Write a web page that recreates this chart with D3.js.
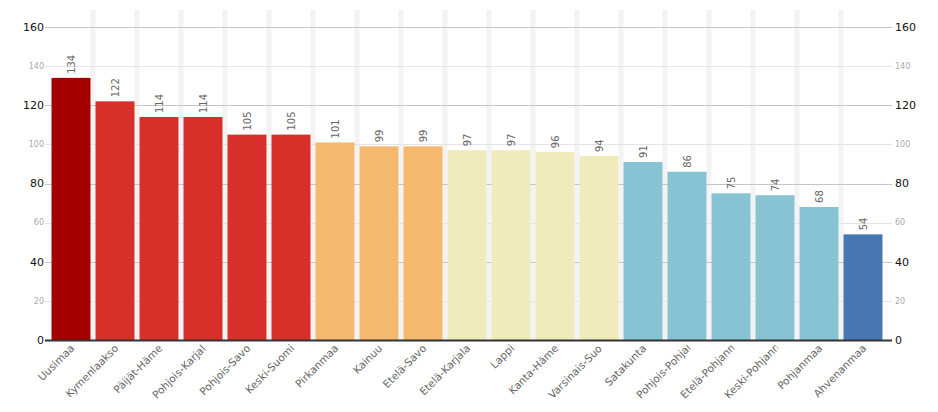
<!DOCTYPE html>
<html><head><meta charset="utf-8">
<script src="https://cdn.jsdelivr.net/npm/d3@7"></script>
<style>
html,body{margin:0;padding:0;background:#fff;}
svg{display:block;font-family:"DejaVu Sans",Verdana,sans-serif;}
</style></head>
<body><svg id="c" width="938" height="412"></svg>
<script>
const categories = ["Uusimaa","Kymenlaakso","Päijät-Häme","Pohjois-Karjala","Pohjois-Savo","Keski-Suomi","Pirkanmaa","Kainuu","Etelä-Savo","Etelä-Karjala","Lappi","Kanta-Häme","Varsinais-Suomi","Satakunta","Pohjois-Pohjanmaa","Etelä-Pohjanmaa","Keski-Pohjanmaa","Pohjanmaa","Ahvenanmaa"];
const values = [134,122,114,114,105,105,101,99,99,97,97,96,94,91,86,75,74,68,54];
const colorGroups = ["#a50000","#d7302a","#d7302a","#d7302a","#d7302a","#d7302a","#f4b96f","#f4b96f","#f4b96f","#efebba","#efebba","#efebba","#efebba","#88c3d3","#88c3d3","#88c3d3","#88c3d3","#88c3d3","#4677b0"];
const majorTicks = [0,40,80,120,160];
const minorTicks = [20,60,100,140];

const svg = d3.select("#c");
const x = d3.scaleBand().domain(categories).range([49,885]).paddingInner(0.114).paddingOuter(0.057);
const y = d3.scaleLinear().domain([0,160]).range([340,27]);
const bw = x.bandwidth(), step = x.step();
const gx0 = 45, gx1 = 892;

// stripes between bars
svg.append("g").selectAll("rect").data(categories.slice(0,-1)).join("rect")
  .attr("x", d => x(d)+bw).attr("width", step-bw)
  .attr("y", 10).attr("height", 340-10).attr("fill","#f3f3f3");

// gridlines
svg.append("g").selectAll("line").data(minorTicks).join("line")
  .attr("x1",gx0).attr("x2",gx1).attr("y1",d=>Math.round(y(d))+0.5).attr("y2",d=>Math.round(y(d))+0.5)
  .attr("stroke","#e4e4e4");
svg.append("g").selectAll("line").data(majorTicks.filter(d=>d>0)).join("line")
  .attr("x1",gx0).attr("x2",gx1).attr("y1",d=>Math.round(y(d))+0.5).attr("y2",d=>Math.round(y(d))+0.5)
  .attr("stroke","#c6c6c6");

// bars
svg.append("g").selectAll("rect").data(values).join("rect")
  .attr("x",(d,i)=>x(categories[i])).attr("width",bw)
  .attr("y",d=>y(d)).attr("height",d=>y(0)-y(d))
  .attr("fill",(d,i)=>colorGroups[i]);

// baseline
svg.append("line").attr("x1",gx0).attr("x2",gx1).attr("y1",340.5).attr("y2",340.5)
  .attr("stroke","#333").attr("stroke-width",2);

// axis labels
function axisLabels(xpos, anchor){
  const g = svg.append("g");
  g.selectAll("text.maj").data(majorTicks).join("text").attr("class","maj")
    .attr("x",xpos).attr("y",d=>y(d)).attr("dy","0.35em").attr("text-anchor",anchor)
    .attr("font-size",11).attr("fill","#111").text(d=>d);
  g.selectAll("text.min").data(minorTicks).join("text").attr("class","min")
    .attr("x",xpos).attr("y",d=>y(d)).attr("dy","0.35em").attr("text-anchor",anchor)
    .attr("font-size",8).attr("fill","#aaa").text(d=>d);
}
axisLabels(44,"end");
axisLabels(895,"start");

// value labels
svg.append("g").selectAll("text").data(values).join("text")
  .attr("transform",(d,i)=>`translate(${x(categories[i])+bw/2},${y(d)-4}) rotate(-90)`)
  .attr("dy","0.35em").attr("text-anchor","start")
  .attr("font-size",10).attr("fill","#666").text(d=>d);

// category labels
const defs = svg.append("defs");
const maxW = 71;
defs.append("clipPath").attr("id","lblclip").append("rect")
  .attr("x",-maxW).attr("y",-14).attr("width",maxW).attr("height",20);
const lg = svg.append("g").selectAll("g").data(categories).join("g")
  .attr("transform",d=>`translate(${x(d)+bw/2+4},${349}) rotate(-45)`)
  .attr("clip-path","url(#lblclip)");
lg.append("text").attr("text-anchor","end").attr("font-size",10.5).attr("fill","#666")
  .text(d=>d)
  .each(function(){
    const L = this.getComputedTextLength();
    if (L > maxW) d3.select(this).attr("text-anchor","start").attr("x",-maxW);
  });
</script></body></html>
